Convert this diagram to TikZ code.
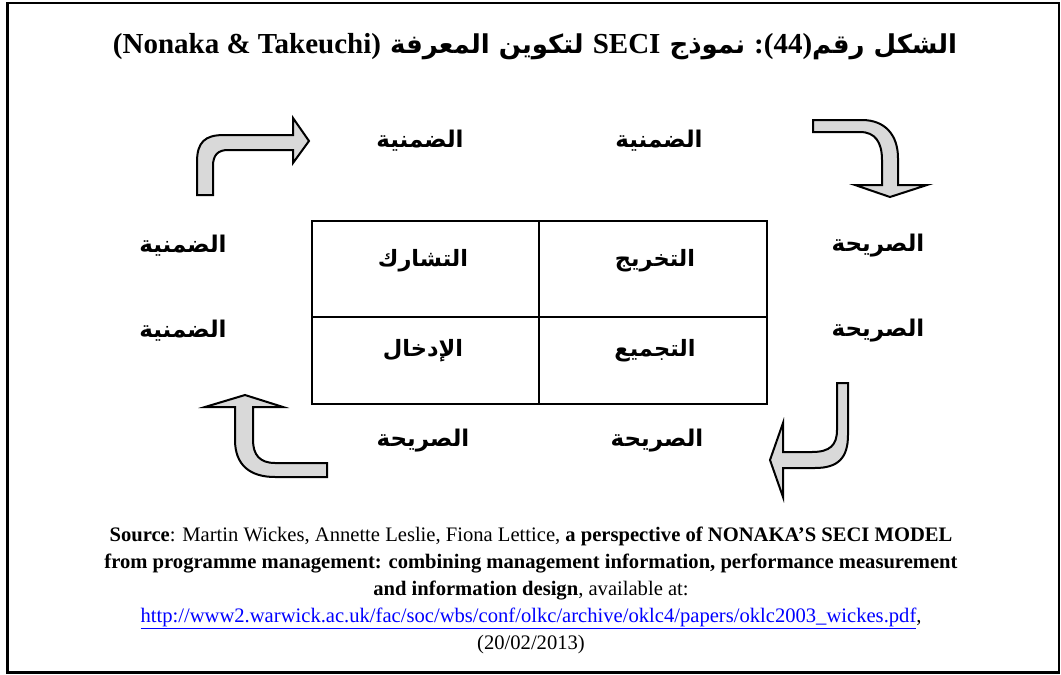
\documentclass[tikz,border=0pt]{standalone}
\usepackage{fontspec}
\setmainfont{Liberation Serif}
\newfontfamily\arabicfont[Script=Arabic]{DejaVu Sans}
\TeXXeTstate=1
\definecolor{arrowgray}{RGB}{217,217,217}
\definecolor{linkblue}{RGB}{0,0,255}

\begin{document}
\begin{tikzpicture}[x=1pt,y=-1pt,
    lbl/.style={font=\fontsize{23}{27}\selectfont\arabicfont\bfseries},
    celltext/.style={font=\fontsize{22.5}{27}\selectfont\arabicfont\bfseries},
    barrow/.style={draw,line width=2pt,fill=arrowgray,line join=miter}]
  \useasboundingbox (0,0) rectangle (1061,675);
  \draw[line width=2.5pt] (7.5,3) rectangle (1059,672.5);
  \node (title) at (535,47) {\fontsize{26}{34}\selectfont\bfseries\arabicfont
    \beginR الشكل رقم{\fontsize{29}{34}\rmfamily\beginL:(44)\endL} نموذج {\fontsize{29}{34}\rmfamily\beginL SECI\endL} لتكوين المعرفة {\fontsize{29}{34}\rmfamily\beginL(Nonaka \& Takeuchi)\endL}\endR};
  % the four modes
  \draw[line width=2pt] (312,221) rectangle (767,404);
  \draw[line width=2pt] (539,221) -- (539,404) (312,317) -- (767,317);
  \node[celltext] (soc)  at (423,261) {\beginR التشارك\endR};
  \node[celltext] (ext)  at (655,261) {\beginR التخريج\endR};
  \node[celltext] (int)  at (423,351) {\beginR الإدخال\endR};
  \node[celltext] (comb) at (655,351) {\beginR التجميع\endR};
  % tacit / explicit around the grid
  \node[lbl] (top-l)   at (420,141) {\beginR الضمنية\endR};
  \node[lbl] (top-r)   at (659,141) {\beginR الضمنية\endR};
  \node[lbl] (left-u)  at (183,246) {\beginR الضمنية\endR};
  \node[lbl] (left-d)  at (183,331) {\beginR الضمنية\endR};
  \node[lbl] (right-u) at (878,246) {\beginR الصريحة\endR};
  \node[lbl] (right-d) at (878,331) {\beginR الصريحة\endR};
  \node[lbl] (bot-l)   at (423,441) {\beginR الصريحة\endR};
  \node[lbl] (bot-r)   at (657,441) {\beginR الصريحة\endR};
  % bent block arrows
  \draw[barrow] (197,195) -- (197,162) .. controls (197,142) and (205,135) .. (224,135)
    -- (293,135) -- (293,118) -- (309,141) -- (293,163) -- (293,150) -- (228,150)
    .. controls (218,150) and (213,155) .. (213,166) -- (213,195) -- cycle;
  \draw[barrow] (813,120) -- (862,120) .. controls (885,120) and (898,135) .. (898,158)
    -- (898,185) -- (927,185) -- (890,197) -- (855,185) -- (882,185) -- (882,160)
    .. controls (882,142) and (875,132) .. (860,132) -- (813,132) -- cycle;
  \draw[barrow] (837,383) -- (848,383) -- (848,435) .. controls (848,458) and (838,468) .. (815,468)
    -- (783,468) -- (783,497) -- (770,460) -- (783,423) -- (783,452) -- (812,452)
    .. controls (830,452) and (837,445) .. (837,430) -- cycle;
  \draw[barrow] (327,463) -- (327,477) -- (275,477) .. controls (250,477) and (235,465) .. (235,440)
    -- (235,407) -- (205,407) -- (245,395) -- (283,407) -- (253,407) -- (253,440)
    .. controls (253,455) and (260,463) .. (275,463) -- cycle;
  % source
  \node[align=center,font=\fontsize{20.6}{27}\selectfont] (src) at (531,590)
    {\textbf{Source}: Martin Wickes, Annette Leslie, Fiona Lettice, \textbf{a perspective of NONAKA'S SECI MODEL}\\
     \textbf{from programme management: combining management information, performance measurement}\\
     \textbf{and information design}, available at:\\
     {\color{linkblue}\underline{http://www2.warwick.ac.uk/fac/soc/wbs/conf/olkc/archive/oklc4/papers/oklc2003\_wickes.pdf}},\\
     (20/02/2013)};
\end{tikzpicture}
\end{document}
